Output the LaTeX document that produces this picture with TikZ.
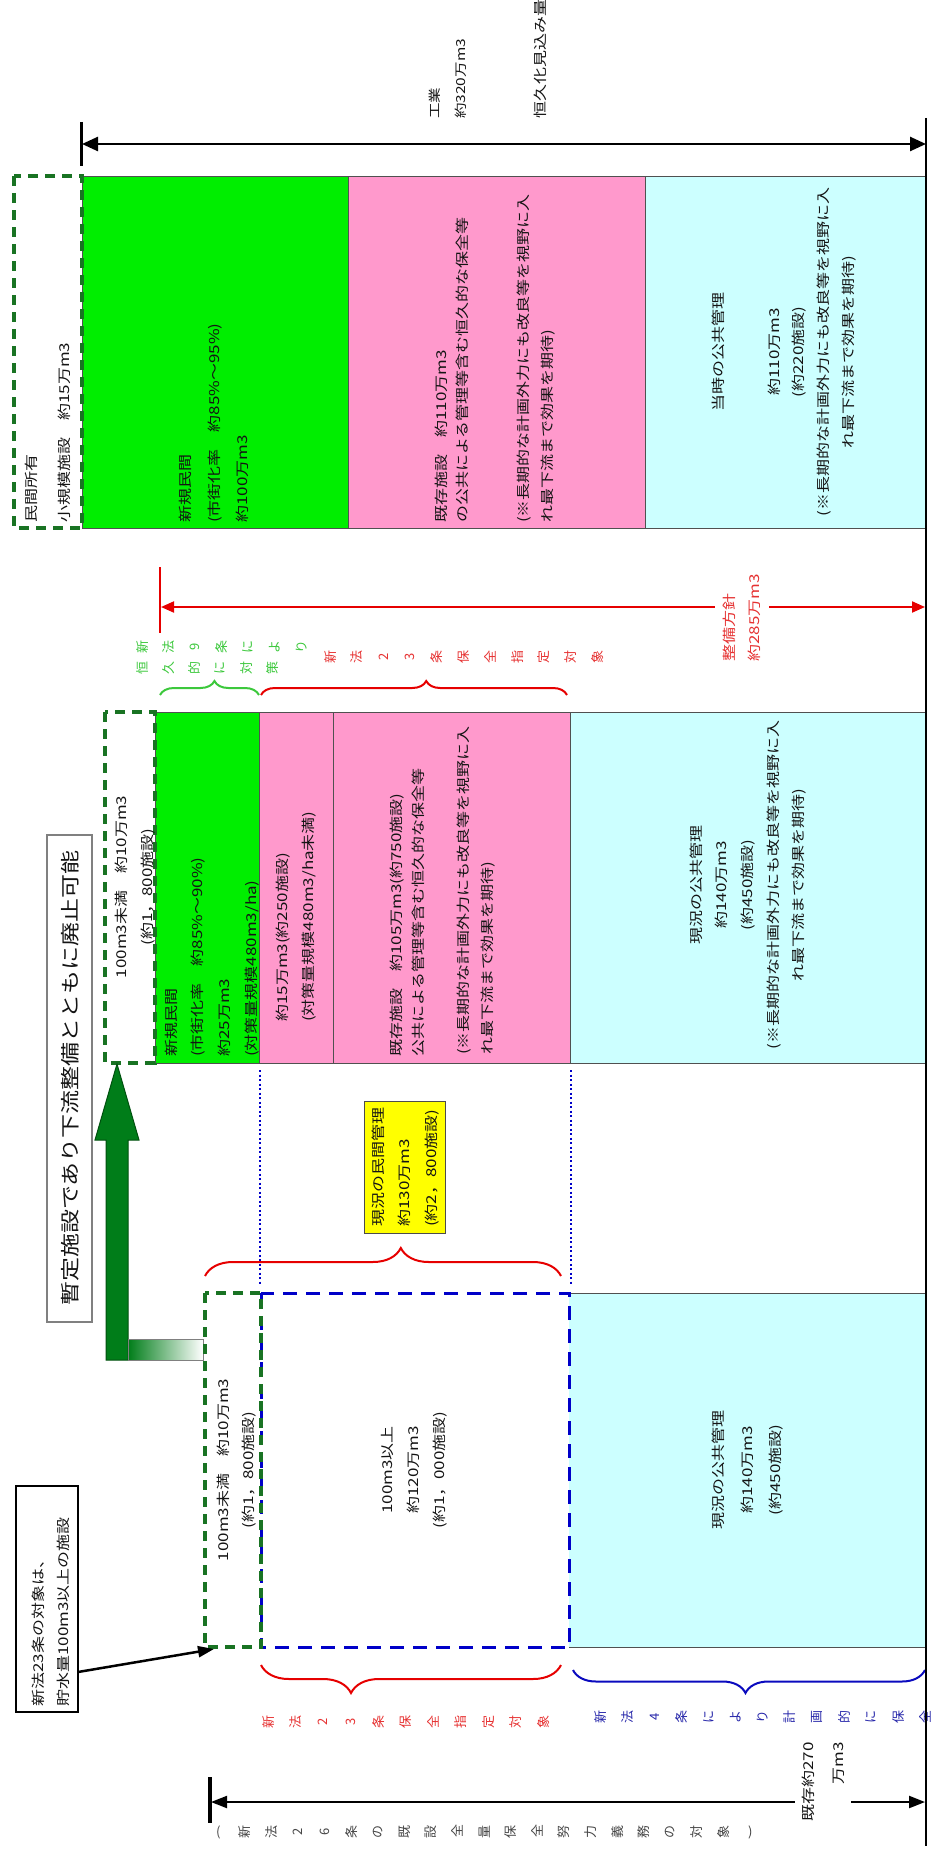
\documentclass[tikz,border=0pt]{standalone}
\usepackage{fontspec}
\usepackage{graphicx}
\newfontfamily\jp{Noto Sans CJK JP}
\usetikzlibrary{arrows.meta,decorations.pathreplacing}
\definecolor{grn}{RGB}{0,238,0}
\definecolor{pnk}{RGB}{255,153,204}
\definecolor{cyn}{RGB}{204,255,255}
\definecolor{ylw}{RGB}{255,255,0}
\definecolor{dgrn}{RGB}{25,115,35}
\definecolor{agrn}{RGB}{0,125,25}
\definecolor{agrnd}{RGB}{0,80,15}
\definecolor{blu}{RGB}{0,0,200}
\definecolor{bluc}{RGB}{10,10,190}
\definecolor{redc}{RGB}{230,0,0}
\definecolor{redt}{RGB}{230,50,50}
\definecolor{grnt}{RGB}{60,200,60}
\definecolor{blut}{RGB}{40,40,170}
\definecolor{grayt}{RGB}{70,70,70}
\definecolor{txt}{RGB}{20,20,20}
\definecolor{bord}{RGB}{80,80,80}
\newlength\rcw
\newcommand\rc[1]{\makebox[\rcw]{\rotatebox[origin=c]{90}{\makebox[13pt]{#1}}}}
\newcommand\uc[1]{\makebox[\rcw]{#1}}
\tikzset{
  tb/.style={rotate=90, yscale=0.8, inner sep=0pt, text=txt, font=\jp\fontsize{17}{#1}\selectfont},
  tb/.default=30,
  crow/.style={inner sep=0pt, anchor=west, font=\jp\fontsize{13}{13}\selectfont},
  blk/.style={draw=bord, line width=0.8pt},
  gdash/.style={draw=dgrn, line width=3.5pt, dash pattern=on 10pt off 7pt},
  bdash/.style={draw=blu, line width=3pt, dash pattern=on 14pt off 9pt},
  bdot/.style={draw=blu, line width=2pt, dash pattern=on 2pt off 2.5pt},
  brc/.style={decorate, line width=2pt},
}
\begin{document}
\begin{tikzpicture}[x=1pt,y=-1pt]
\useasboundingbox (0,0) rectangle (937,1854);

% ---------- top labels and arrow
\node[tb, anchor=west, align=left, font=\jp\fontsize{15.5}{32}\selectfont] (kg) at (448,119) {工業\\約320万m3};
\node[tb, anchor=west] (kh) at (540,119) {恒久化見込み量};
\coordinate (ta1) at (81,122); \coordinate (ta2) at (81,166);
\draw[line width=3pt] (ta1) -- (ta2);
\coordinate (tl) at (82,144); \coordinate (tr) at (926,144);
\draw[line width=2.5pt, {Triangle[length=16pt,width=14pt]}-{Triangle[length=16pt,width=14pt]}] (tl) -- (tr);
\coordinate (rb1) at (926,118); \coordinate (rb2) at (926,1846);

% ---------- row 1
\fill[grn] (82,176) rectangle (348,528);
\fill[pnk] (348,176) rectangle (645,528);
\fill[cyn] (645,176) rectangle (926,528);
\draw[blk] (82,176) rectangle (348,528) (348,176) rectangle (645,528) (645,176) rectangle (926,528);
\draw[gdash] (14,176) rectangle (82,528);
\node[tb=41, anchor=west, align=left] (m1) at (48,523) {民間所有\\小規模施設　約15万m3};
\node[tb=36, anchor=west, align=left] (g1) at (214,523) {新規民間\\(市街化率　約85\%～95\%)\\約100万m3};
\node[tb=26, anchor=west, align=left] (p1a) at (452,523) {既存施設　約110万m3\\の公共による管理等含む恒久的な保全等};
\node[tb=31, anchor=west, align=left] (p1b) at (536,523) {(※長期的な計画外力にも改良等を視野に入\\れ最下流まで効果を期待)};
\node[tb] (c1a) at (718,352) {当時の公共管理};
\node[tb=31, align=center] (c1b) at (812,352) {約110万m3\\(約220施設)\\(※長期的な計画外力にも改良等を視野に入\\れ最下流まで効果を期待)};

% ---------- red arrow band
\coordinate (ra1) at (160,567); \coordinate (ra2) at (160,633);
\draw[redc, line width=2pt] (ra1) -- (ra2);
\coordinate (rl) at (161,607); \coordinate (rr) at (925,607);
\draw[redc, line width=2pt, {Triangle[length=13pt,width=11pt]}-{Triangle[length=13pt,width=11pt]}] (rl) -- (rr);
\node[tb=31, anchor=west, align=left, text=redt, fill=white, inner xsep=0pt, inner ysep=10pt] (seibi) at (742,662) {整備方針\\約285万m3};

\node[crow, text=grnt] (ga) at (128.75,647) {\setlength\rcw{26.5pt}\rc{新}\rc{法}\rc{9}\rc{条}\rc{に}\rc{よ}\rc{り}};
\node[crow, text=grnt] (gb) at (129,668) {\setlength\rcw{26pt}\rc{恒}\rc{久}\rc{的}\rc{に}\rc{対}\rc{策}};
\node[crow, text=redt] (rt) at (316.65,657) {\setlength\rcw{26.7pt}\rc{新}\rc{法}\rc{2}\rc{3}\rc{条}\rc{保}\rc{全}\rc{指}\rc{定}\rc{対}\rc{象}};
\draw[brc, grnt, decoration={brace, amplitude=14pt, aspect=0.55}] (160,695) -- (259,695);
\draw[brc, redc, decoration={brace, amplitude=14pt, aspect=0.54}] (261,695) -- (567,695);

% ---------- row 2
\fill[grn] (155,712) rectangle (259,1063);
\fill[pnk] (259,712) rectangle (570,1063);
\fill[cyn] (570,712) rectangle (926,1063);
\draw[blk] (155,712) rectangle (259,1063) (259,712) rectangle (333,1063) (333,712) rectangle (570,1063) (570,712) rectangle (926,1063);
\draw[gdash] (105,712) rectangle (155,1063);
\node[tb=32.5, align=center] (d2) at (135,887) {100m3未満　約10万m3\\(約1，800施設)};
\node[tb=33.4, anchor=west, align=left] (g2) at (212,1057) {新規民間\\(市街化率　約85\%～90\%)\\約25万m3\\(対策量規模480m3/ha)};
\node[tb=32.5, anchor=west, align=left] (p2a) at (296,1022) {約15万m3(約250施設)\\(対策量規模480m3/ha未満)};
\node[tb=27.5, anchor=west, align=left] (p2b) at (407,1057) {既存施設　約105万m3(約750施設)\\公共による管理等含む恒久的な保全等};
\node[tb=30, anchor=west, align=left] (p2c) at (476,1055) {(※長期的な計画外力にも改良等を視野に入\\れ最下流まで効果を期待)};
\node[tb=32, align=center] (c2) at (748,885) {現況の公共管理\\約140万m3\\(約450施設)\\(※長期的な計画外力にも改良等を視野に入\\れ最下流まで効果を期待)};

% ---------- temporary facility note and green arrow
\path[draw=gray, line width=1.5pt, fill=white] (47,835) rectangle (92,1322);
\node[rotate=90, yscale=0.8, inner sep=0pt, text=txt, font=\jp\fontsize{24}{24}\selectfont] (zan) at (70,1078) {暫定施設であり下流整備とともに廃止可能};
\path[fill=agrn, draw=agrnd, line width=1pt] (106,1360) -- (106,1140) -- (95,1140) -- (117,1064) -- (139,1140) -- (128,1140) -- (128,1360) -- cycle;
\shade[left color=agrn, right color=white] (128,1339) rectangle (203,1360);
\draw[gray, line width=1pt] (128,1339) rectangle (203,1360);

% ---------- row 3
\draw[bdot] (260,1070) -- (260,1285);
\draw[bdot] (571,1070) -- (571,1285);
\path[fill=ylw, draw=black!70, line width=1pt] (364,1101) rectangle (445,1233);
\node[tb=33, anchor=west, align=left] (y3) at (405.5,1227) {現況の民間管理\\約130万m3\\(約2，800施設)};
\draw[brc, redc, decoration={brace, amplitude=28pt, aspect=0.55}] (205,1276) -- (561,1276);
\fill[cyn] (569,1293) rectangle (926,1647);
\draw[blk] (569,1293) -- (926,1293) (569,1647) -- (926,1647);
\draw[bdash] (261,1293) rectangle (569,1647);
\draw[gdash] (205,1293) rectangle (261,1647);
\node[tb=31, align=center] (d3) at (236.5,1470) {100m3未満　約10万m3\\(約1，800施設)};
\node[tb=32.5, align=center] (b3) at (414,1470) {100m3以上\\約120万m3\\(約1，000施設)};
\node[tb=35.6, align=center] (c3) at (748,1470) {現況の公共管理\\約140万m3\\(約450施設)};

% ---------- note box
\path[draw=black, line width=2pt, fill=white] (16,1486) rectangle (78,1712);
\node[tb=31, anchor=west, align=left] (nt) at (50.5,1707) {新法23条の対象は、\\貯水量100m3以上の施設};
\coordinate (na) at (78,1672); \coordinate (nb) at (214,1649);
\draw[line width=2.5pt, -{Triangle[length=16pt,width=11pt]}] (na) -- (nb);

% ---------- bottom braces and labels
\draw[brc, redc, decoration={brace, amplitude=28pt, aspect=0.7}] (561,1665) -- (261,1665);
\draw[brc, bluc, decoration={brace, amplitude=23pt, aspect=0.51}] (925,1670) -- (573,1670);
\node[crow, text=redt] (rb) at (254.25,1722) {\setlength\rcw{27.5pt}\rc{新}\rc{法}\rc{2}\rc{3}\rc{条}\rc{保}\rc{全}\rc{指}\rc{定}\rc{対}\rc{象}};
\node[crow, text=blut] (bb) at (586.45,1717) {\setlength\rcw{27.1pt}\rc{新}\rc{法}\rc{4}\rc{条}\rc{に}\rc{よ}\rc{り}\rc{計}\rc{画}\rc{的}\rc{に}\rc{保}\rc{全}};
\node[crow, text=grayt] (kb) at (204.7,1832) {\setlength\rcw{26.6pt}\uc{(}\rc{新}\rc{法}\rc{2}\rc{6}\rc{条}\rc{の}\rc{既}\rc{設}\rc{全}\rc{量}\rc{保}\rc{全}\rc{努}\rc{力}\rc{義}\rc{務}\rc{の}\rc{対}\rc{象}\uc{)}};

% ---------- bottom arrow
\coordinate (ba1) at (210,1777); \coordinate (ba2) at (210,1823);
\draw[line width=4pt] (ba1) -- (ba2);
\coordinate (bl) at (211,1802); \coordinate (br) at (925,1802);
\draw[line width=2.2pt, {Triangle[length=16pt,width=12pt]}-{Triangle[length=16pt,width=12pt]}] (bl) -- (br);
\node[tb=37.5, anchor=east, align=right, fill=white, inner xsep=0pt, inner ysep=8pt] (kz) at (823,1742) {既存約270\\万m3};

% right border
\draw[line width=2.5pt] (rb1) -- (rb2);
\end{tikzpicture}
\end{document}
